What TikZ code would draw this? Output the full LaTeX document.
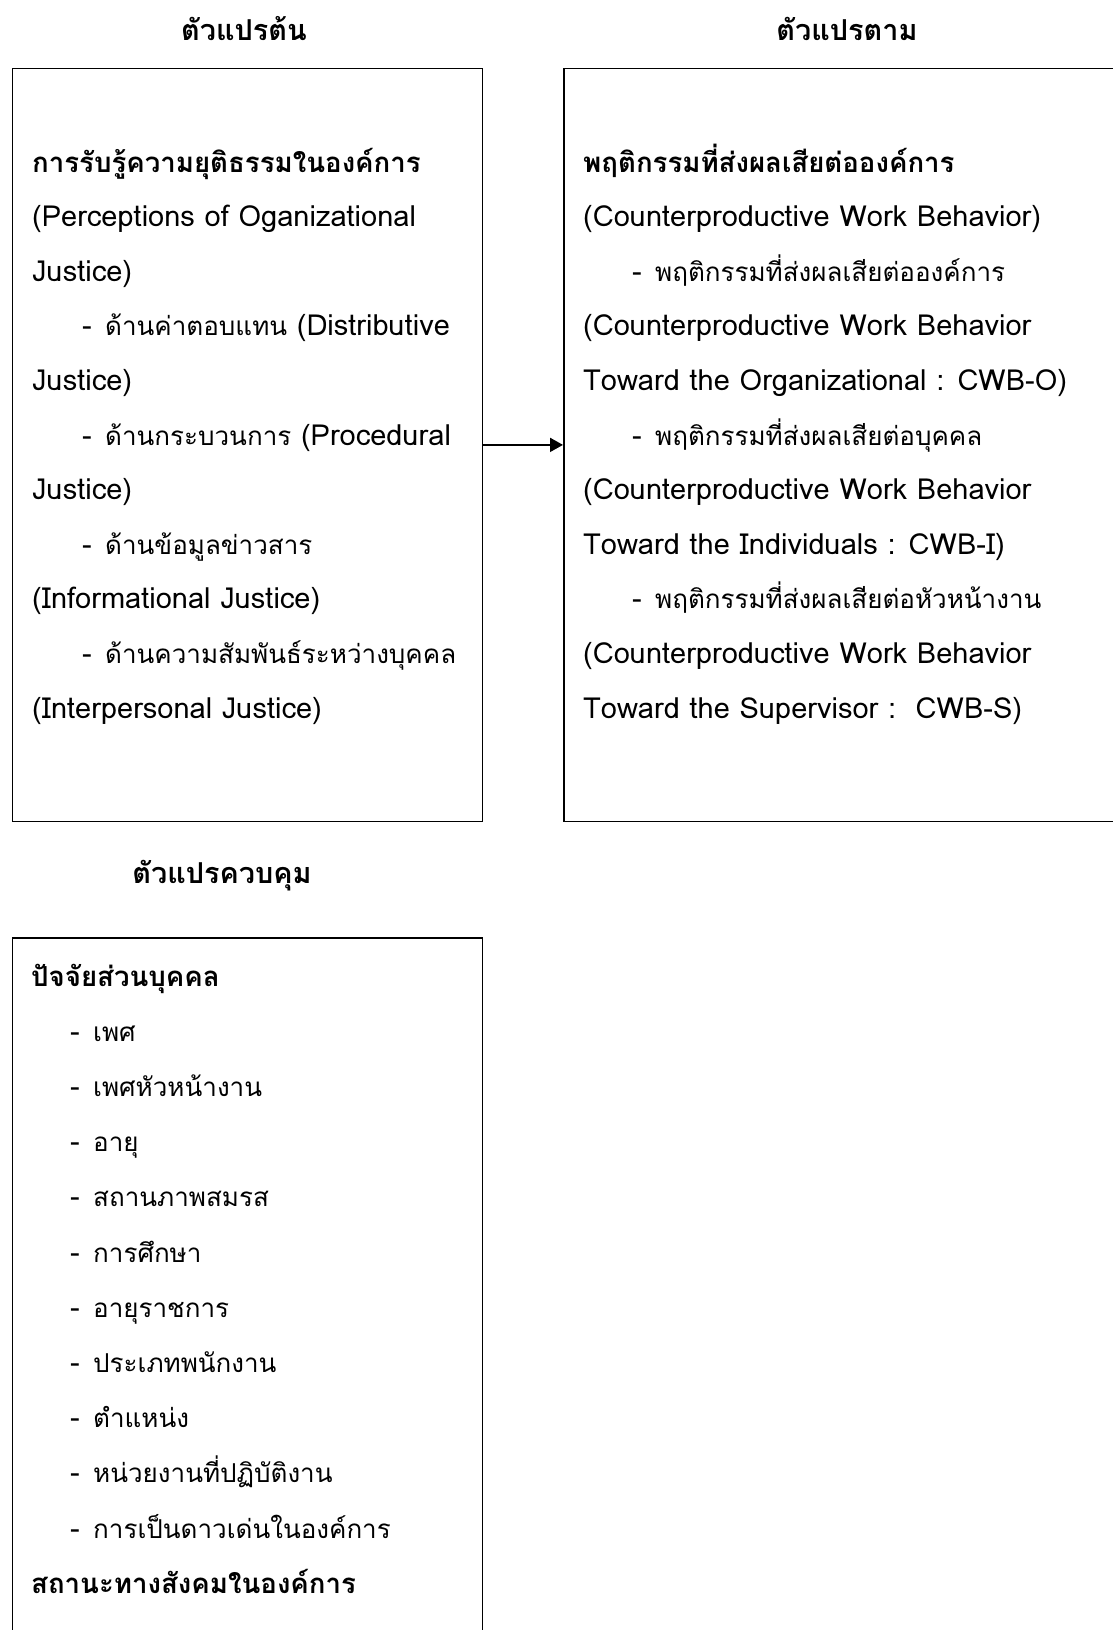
\documentclass[tikz,border=0pt]{standalone}
\usepackage{fontspec}
\setmainfont[Script=Thai]{Loma}
\usetikzlibrary{arrows.meta}
\newcommand{\ditem}{\makebox[23pt][l]{-}}
\newcommand{\tha}[1]{{\fontsize{26}{30}\selectfont #1}}
\tikzset{
  hdr/.style={inner sep=0pt,font=\bfseries\fontsize{28.8}{32}\selectfont},
  ln/.style={anchor=base west,inner sep=0pt,font=\fontsize{29}{32}\selectfont},
  lnb/.style={ln,font=\bfseries\fontsize{27.6}{32}\selectfont},
  frame/.style={draw,line width=1.8pt,inner sep=0pt,anchor=north west},
}
\begin{document}
\begin{tikzpicture}[x=1pt,y=-1pt,>={Triangle[length=13pt,width=14pt]}]
\clip (0,0) rectangle (1113,1630);
% titles
\node[hdr] (ivtitle) at (244,29) {ตัวแปรต้น};
\node[hdr] (dvtitle) at (847,29) {ตัวแปรตาม};
\node[hdr] (cvtitle) at (222,876) {ตัวแปรควบคุม};
% boxes
\node[frame,minimum width=470pt,minimum height=753pt] (ivbox) at (11.5,67.5) {};
\node[frame,minimum width=565pt,minimum height=753pt] (dvbox) at (563,67.5) {};
\node[frame,minimum width=470pt,minimum height=720pt] (cvbox) at (11.5,937) {};
\draw[->,line width=1.8pt] (ivbox.east) -- (dvbox.west);
% independent variable
\node[lnb] (iv0) at (32,172) {การรับรู้ความยุติธรรมในองค์การ};
\foreach \x/\t [count=\i] in {32/{(Perceptions of Oganizational},
  32/{Justice)},
  82/{\ditem\tha{ด้านค่าตอบแทน} (Distributive},
  32/{Justice)},
  82/{\ditem\tha{ด้านกระบวนการ} (Procedural},
  32/{Justice)},
  82/{\ditem\tha{ด้านข้อมูลข่าวสาร}},
  32/{(Informational Justice)},
  82/{\ditem\tha{ด้านความสัมพันธ์ระหว่างบุคคล}},
  32/{(Interpersonal Justice)}}
  \node[ln] (iv\i) at (\x,172+54.6*\i) {\t};
% dependent variable
\node[lnb] (dv0) at (583,172) {พฤติกรรมที่ส่งผลเสียต่อองค์การ};
\foreach \x/\t [count=\i] in {583/{(Counterproductive Work Behavior)},
  632/{\ditem\tha{พฤติกรรมที่ส่งผลเสียต่อองค์การ}},
  583/{(Counterproductive Work Behavior},
  583/{Toward the Organizational : CWB-O)},
  632/{\ditem\tha{พฤติกรรมที่ส่งผลเสียต่อบุคคล}},
  583/{(Counterproductive Work Behavior},
  583/{Toward the Individuals : CWB-I)},
  632/{\ditem\tha{พฤติกรรมที่ส่งผลเสียต่อหัวหน้างาน}},
  583/{(Counterproductive Work Behavior},
  583/{Toward the Supervisor :~~CWB-S)}}
  \node[ln] (dv\i) at (\x,172+54.6*\i) {\t};
% control variables
\node[lnb] (cv0) at (31,986) {ปัจจัยส่วนบุคคล};
\foreach \t [count=\i] in {เพศ,เพศหัวหน้างาน,อายุ,สถานภาพสมรส,การศึกษา,
  อายุราชการ,ประเภทพนักงาน,ตำแหน่ง,หน่วยงานที่ปฏิบัติงาน,การเป็นดาวเด่นในองค์การ}
  \node[ln] (cv\i) at (70,986+55.2*\i) {\ditem\tha{\t}};
\node[lnb] (cv11) at (31,986+55.2*11) {สถานะทางสังคมในองค์การ};
\end{tikzpicture}
\end{document}
